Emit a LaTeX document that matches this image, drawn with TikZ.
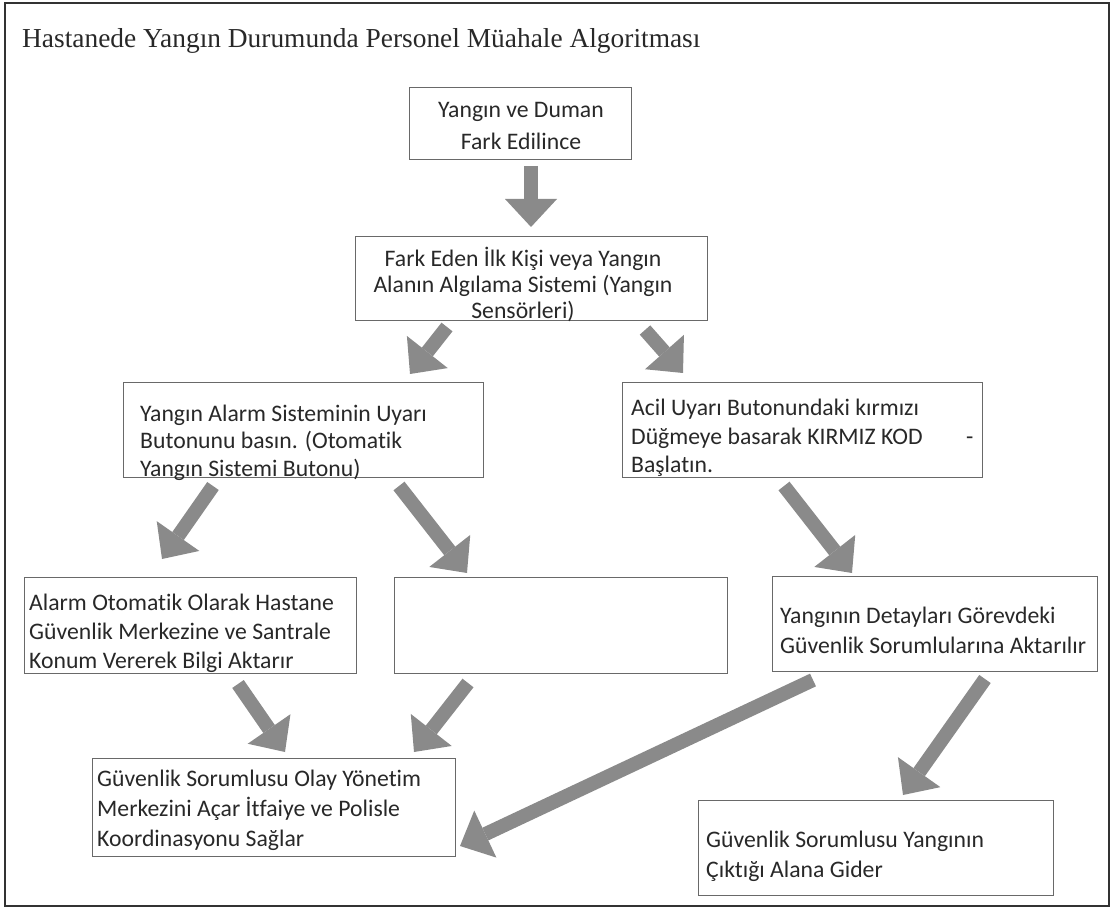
\documentclass[tikz,border=0pt]{standalone}
\usepackage{fontspec}
\setmainfont{Carlito}[Ligatures=NoCommon]
\newfontfamily\titlefont{Liberation Serif}
\usetikzlibrary{arrows.meta}
\definecolor{arrowgray}{RGB}{138,138,138}
\definecolor{boxline}{RGB}{105,105,105}
\definecolor{txtcol}{RGB}{40,40,40}
\definecolor{framecol}{RGB}{50,50,50}
\begin{document}
\begin{tikzpicture}[x=1pt,y=-1pt,
  box/.style={draw=boxline, line width=1pt, anchor=north west, inner sep=0pt},
  ln/.style={anchor=base west, inner sep=0pt, text=txtcol, font=\fontsize{23.7}{28}\selectfont},
  lnc/.style={ln, anchor=base},
  blockarrow/.style={draw=arrowgray, line width=14pt,
    -{Triangle[width=52pt,length=28pt,line width=0pt]}}
]
\useasboundingbox (0,0) rectangle (1112,909);
% outer frame
\node[draw=framecol, line width=1.8pt, anchor=north west, inner sep=0pt,
  minimum width=1104pt, minimum height=903pt] (frame) at (4,2) {};
% title
\node[anchor=base west, inner sep=0pt, text=txtcol,
  font=\titlefont\fontsize{27.4}{32}\selectfont] (title) at (22,48)
  {Hastanede Yangın Durumunda Personel Müahale Algoritması};

% boxes
\node[box, minimum width=222pt, minimum height=72pt] (b1) at (409,87) {};
\node[box, minimum width=352pt, minimum height=84pt] (b2) at (355,236) {};
\node[box, minimum width=360pt, minimum height=95pt] (b3) at (123,382) {};
\node[box, minimum width=360pt, minimum height=95pt] (b4) at (622,382) {};
\node[box, minimum width=332pt, minimum height=96pt] (b5) at (24,577) {};
\node[box, minimum width=333pt, minimum height=96pt] (b6) at (394,577) {};
\node[box, minimum width=325pt, minimum height=95pt] (b7) at (772,576) {};
\node[box, minimum width=363pt, minimum height=98pt] (b8) at (92,758) {};
\node[box, minimum width=355pt, minimum height=95pt] (b9) at (698,800) {};

% texts
\node[lnc] (t1a) at (521,118) {Yangın ve Duman};
\node[lnc] (t1b) at (521,150) {Fark Edilince};

\node[lnc] (t2a) at (523,267) {Fark Eden İlk Kişi veya Yangın};
\node[lnc] (t2b) at (523,293) {Alanın Algılama Sistemi (Yangın};
\node[lnc] (t2c) at (523,319) {Sensörleri)};

\node[ln] (t3a) at (140,422) {Yangın Alarm Sisteminin Uyarı};
\node[ln] (t3b) at (140,449) {Butonunu basın. (Otomatik};
\node[ln] (t3c) at (140,476) {Yangın Sistemi Butonu)};

\node[ln] (t4a) at (631,416) {Acil Uyarı Butonundaki kırmızı};
\node[ln] (t4b) at (631,444) {Düğmeye basarak KIRMIZ KOD};
\node[ln] (t4d) at (966,444) {-};
\node[ln] (t4c) at (631,472) {Başlatın.};

\node[ln] (t5a) at (29,610) {Alarm Otomatik Olarak Hastane};
\node[ln] (t5b) at (29,639) {Güvenlik Merkezine ve Santrale};
\node[ln] (t5c) at (29,668) {Konum Vererek Bilgi Aktarır};

\node[ln] (t7a) at (780,623) {Yangının Detayları Görevdeki};
\node[ln] (t7b) at (780,653) {Güvenlik Sorumlularına Aktarılır};

\node[ln] (t8a) at (97,786) {Güvenlik Sorumlusu Olay Yönetim};
\node[ln] (t8b) at (97,816) {Merkezini Açar İtfaiye ve Polisle};
\node[ln] (t8c) at (97,846) {Koordinasyonu Sağlar};

\node[ln] (t9a) at (706,847) {Güvenlik Sorumlusu Yangının};
\node[ln] (t9b) at (706,877) {Çıktığı Alana Gider};

% arrow end points
\coordinate (a1s) at (531,166); \coordinate (a1e) at (531,227);
\coordinate (a2s) at (447,327); \coordinate (a2e) at (410,374);
\coordinate (a3s) at (645,330); \coordinate (a3e) at (683,373);
\coordinate (aAs) at (213,486); \coordinate (aAe) at (162,559);
\coordinate (aBs) at (399,486); \coordinate (aBe) at (467,573);
\coordinate (aCs) at (784,486); \coordinate (aCe) at (852,573);
\coordinate (aDs) at (238,684); \coordinate (aDe) at (285,752);
\coordinate (aEs) at (468,683); \coordinate (aEe) at (414,752);
\coordinate (aFs) at (813,680); \coordinate (aFe) at (460,846);
\coordinate (aGs) at (985,679); \coordinate (aGe) at (903,795);

\draw[blockarrow] (a1s) -- (a1e);
\draw[blockarrow] (a2s) -- (a2e);
\draw[blockarrow] (a3s) -- (a3e);
\draw[blockarrow] (aAs) -- (aAe);
\draw[blockarrow] (aBs) -- (aBe);
\draw[blockarrow] (aCs) -- (aCe);
\draw[blockarrow] (aDs) -- (aDe);
\draw[blockarrow] (aEs) -- (aEe);
\draw[blockarrow] (aFs) -- (aFe);
\draw[blockarrow] (aGs) -- (aGe);
\end{tikzpicture}
\end{document}
